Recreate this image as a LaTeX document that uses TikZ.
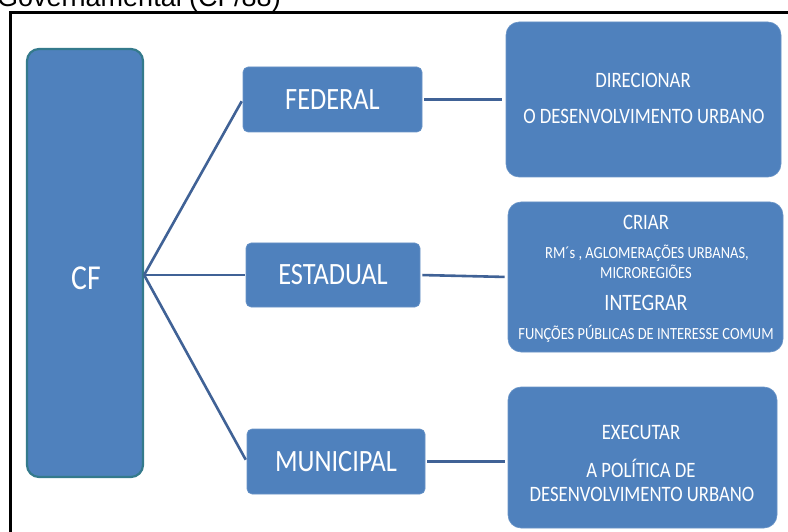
\documentclass[tikz,border=0pt]{standalone}
\usepackage{fontspec}
\setmainfont{Carlito}
\newfontfamily\narrowf[FakeStretch=0.85]{Carlito}
\newfontfamily\arialf{Liberation Sans}
\definecolor{boxblue}{RGB}{79,129,189}
\definecolor{cfborder}{RGB}{52,122,140}
\definecolor{linkblue}{RGB}{64,98,150}
\tikzset{
  bluebox/.style={fill=boxblue, draw=boxblue!85!white, line width=0.6pt, inner sep=0pt},
  midbox/.style={bluebox, rounded corners=5pt},
  bigbox/.style={bluebox, rounded corners=13pt},
  link/.style={draw=linkblue, line width=2.6pt},
  wtxt/.style={text=white, align=center, inner sep=0pt},
}
\begin{document}
\begin{tikzpicture}[x=1pt,y=-1pt]
\useasboundingbox (0,0) rectangle (788,532);
\fill[white] (0,0) rectangle (788,532);
% title (cut at the top)
\node[anchor=base west, inner sep=0pt, font=\arialf\fontsize{27}{27}\selectfont] (title) at (-3,7) {Governamental (CF/88)};
% frame
\draw[line width=3pt] (10,545) -- (10,13) -- (800,13);
% CF
\node[fill=boxblue, draw=cfborder, line width=2.2pt, rounded corners=12pt, minimum width=116pt, minimum height=428pt, inner sep=0pt] (CF) at (85,263) {};
\node[wtxt, font=\narrowf\fontsize{35}{35}\selectfont] (cft) at (86,278) {CF};
% level 2
\node[midbox, minimum width=179pt, minimum height=65pt] (FED) at (332.5,99.5) {};
\node[wtxt, font=\narrowf\fontsize{31}{31}\selectfont] (fedt) at (FED.center) {FEDERAL};
\node[midbox, minimum width=174pt, minimum height=64pt] (EST) at (333,275) {};
\node[wtxt, font=\narrowf\fontsize{31}{31}\selectfont] (estt) at (EST.center) {ESTADUAL};
\node[midbox, minimum width=178pt, minimum height=65pt] (MUN) at (336,461.5) {};
\node[wtxt, font=\narrowf\fontsize{31}{31}\selectfont] (munt) at (MUN.center) {MUNICIPAL};
% level 3
\node[bigbox, minimum width=275pt, minimum height=155pt] (B1) at (643.5,99.5) {};
\node[bigbox, minimum width=275pt, minimum height=150pt] (B2) at (645.5,277) {};
\node[bigbox, minimum width=269pt, minimum height=141pt] (B3) at (642.5,457.5) {};
% box texts
\node[wtxt, font=\narrowf\fontsize{22}{22}\selectfont] (t11) at (643,80) {DIRECIONAR};
\node[wtxt, font=\narrowf\fontsize{22}{22}\selectfont] (t12) at (644,116) {O DESENVOLVIMENTO URBANO};
\node[wtxt, font=\narrowf\fontsize{22}{22}\selectfont] (t21) at (646,222) {CRIAR};
\node[wtxt, font=\narrowf\fontsize{17}{17}\selectfont] (t22) at (647,253) {RM´s , AGLOMERAÇÕES URBANAS,};
\node[wtxt, font=\narrowf\fontsize{17}{17}\selectfont] (t23) at (646,272) {MICROREGIÕES};
\node[wtxt, font=\narrowf\fontsize{23.5}{23.5}\selectfont] (t24) at (646,303) {INTEGRAR};
\node[wtxt, font=\narrowf\fontsize{17}{17}\selectfont] (t25) at (646,334) {FUNÇÕES PÚBLICAS DE INTERESSE COMUM};
\node[wtxt, font=\narrowf\fontsize{22}{22}\selectfont] (t31) at (641,432) {EXECUTAR};
\node[wtxt, font=\narrowf\fontsize{22}{22}\selectfont] (t32) at (641,468) {A POLÍTICA DE};
\node[wtxt, font=\narrowf\fontsize{22}{22}\selectfont] (t33) at (642,494) {DESENVOLVIMENTO URBANO};
% connectors
\coordinate (fan) at (CF.east |- EST.west);
\draw[link, shorten >=2pt] (fan) -- (FED.west);
\draw[link, shorten >=1pt] (fan) -- (EST.west);
\draw[link, shorten >=2pt] (fan) -- (MUN.west);
\draw[link, shorten <=2pt, shorten >=4pt] (FED.east) -- (B1.west |- FED.east);
\draw[link, shorten <=2pt, shorten >=3pt] (EST.east) -- (B2.west);
\draw[link, shorten <=2pt, shorten >=3pt] (MUN.east) -- (B3.west |- MUN.east);
\end{tikzpicture}
\end{document}
